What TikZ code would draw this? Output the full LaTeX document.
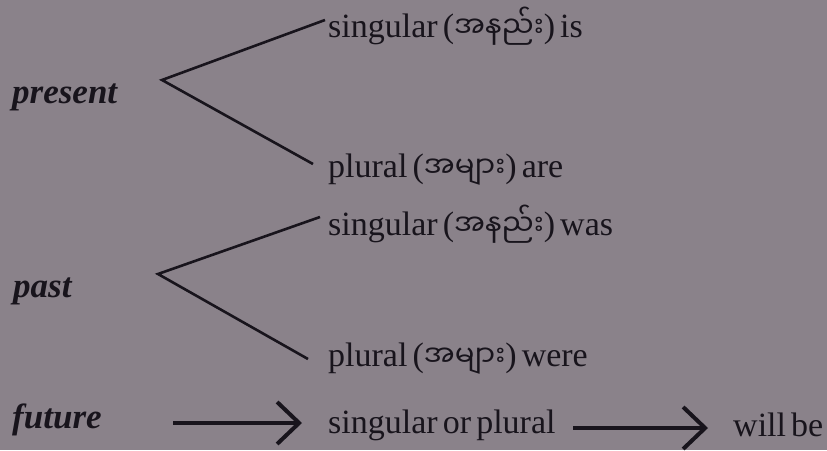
\documentclass[tikz,border=0pt]{standalone}
\usepackage{fontspec}
\setmainfont[WordSpace=0.6]{Liberation Serif}
\newfontfamily\my[Script=Myanmar]{Noto Sans Myanmar UI}
\usetikzlibrary{arrows.meta}
\definecolor{bg}{RGB}{138,130,138}
\definecolor{ink}{RGB}{24,20,28}
\newcommand{\mm}[1]{{\my\fontsize{29}{30}\selectfont #1}}
\begin{document}
\begin{tikzpicture}[x=1pt,y=-1pt,
 txt/.style={anchor=base west,inner sep=0pt,text=ink,font=\fontsize{34}{40}\selectfont},
 lbl/.style={anchor=base west,inner sep=0pt,text=ink,font=\fontsize{35}{40}\selectfont\bfseries\itshape},
 branch/.style={draw=ink,line width=2.6pt},
 flow/.style={draw=ink,line width=4pt,-{Straight Barb[length=22pt,width=42pt]}}]
\fill[bg] (0,0) rectangle (827,450);
\useasboundingbox (0,0) rectangle (827,450);
% labels
\node[lbl] (present) at (12,103) {present};
\node[lbl] (past) at (13,297) {past};
\node[lbl] (future) at (12,428) {future};
% texts
\node[txt] (sis) at (328,37) {singular (\mm{အနည်း}) is};
\node[txt] (pare) at (328,177) {plural (\mm{အများ}) are};
\node[txt] (swas) at (328,235) {singular (\mm{အနည်း}) was};
\node[txt] (pwere) at (328,366) {plural (\mm{အများ}) were};
\node[txt] (sop) at (328,433) {singular or plural};
\node[txt] (will) at (733,436) {will be};
% branch coordinates
\coordinate (v1) at (162,80);
\coordinate (v1a) at (325,20);
\coordinate (v1b) at (313,164);
\coordinate (v2) at (158,274);
\coordinate (v2a) at (320,217);
\coordinate (v2b) at (308,359);
\draw[branch] (v1a) -- (v1) -- (v1b);
\draw[branch] (v2a) -- (v2) -- (v2b);
% arrows
\coordinate (a1s) at (173,423);
\coordinate (a1e) at (302,423);
\coordinate (a2s) at (573,428);
\coordinate (a2e) at (708,428);
\draw[flow] (a1s) -- (a1e);
\draw[flow] (a2s) -- (a2e);
\end{tikzpicture}
\end{document}
